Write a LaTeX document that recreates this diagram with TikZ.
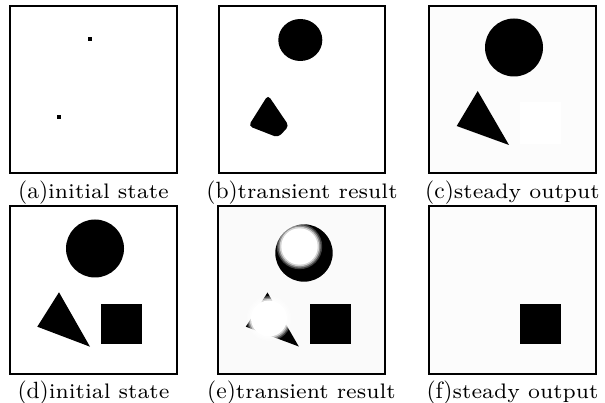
\documentclass[tikz,border=0pt]{standalone}
\usepackage{graphicx}

% caption: label at 10pt design size, text at 7pt design size, both enlarged
\newcommand\figcap[2]{\scalebox{2.35}{\fontsize{10}{12}\selectfont(#1)}\scalebox{3}{\fontsize{7}{8}\selectfont #2}}

% white disc with a soft edge, drawn as stacked translucent discs
\newcommand\softdisc[3]{%
  \foreach \d/\o in {3/0.25,1.5/0.4,0/0.6,-1.5/1}{%
    \fill[white,opacity=\o] (#1,#2) circle ({#3+\d});}}

\tikzset{
  panel/.style={draw=black, line width=2pt},
  ink/.style={fill=black},
  caption/.style={anchor=base, inner sep=0pt, outer sep=0pt},
}

\begin{document}
\begin{tikzpicture}[x=1pt, y=-1pt]
\useasboundingbox (0,0) rectangle (605,403);

% ---------- (a) two seed points ----------
\draw[panel, fill=white] (10,6) rectangle (177,173);
\fill[ink] (88,37) rectangle (92,41);
\fill[ink] (57.3,114.7) rectangle (61.3,118.7);
\node[caption] (capa) at (93.5,199) {\figcap{a}{initial state}};

% ---------- (b) shapes while growing ----------
\draw[panel, fill=white] (219,6) rectangle (385,173);
\fill[ink] (300.3,40) ellipse (22 and 21);
\fill[ink, rounded corners=4pt] (268,95) -- (289,126) -- (278,137.5) -- (248.5,126) -- cycle;
\node[caption] (capb) at (302,199) {\figcap{b}{transient result}};

% ---------- (c) settled shapes ----------
\draw[panel, fill=black!1] (429,6) rectangle (596,173);
\fill[white] (520,101.7) rectangle (560.7,144);
\fill[ink] (514,47.5) circle (29);
\fill[ink] (477.7,91) -- (456.7,126) -- (509,145) -- cycle;
\node[caption] (capc) at (512.5,199) {\figcap{c}{steady output}};

% ---------- (d) three shapes ----------
\draw[panel, fill=white] (10,206) rectangle (177,374);
\fill[ink] (95,248.5) circle (29);
\fill[ink] (59,292.3) -- (37.3,326.7) -- (90,346.7) -- cycle;
\fill[ink] (101,304) rectangle (141.7,344.3);
\node[caption] (capd) at (93.5,398) {\figcap{d}{initial state}};

% ---------- (e) shapes being erased ----------
\draw[panel, fill=black!2] (218,206) rectangle (385,374);
\fill[ink] (304,253) circle (28.7);
\softdisc{299.5}{246.5}{19.7}
\fill[ink] (267.5,292.5) -- (245.8,326.7) -- (298.8,346.5) -- cycle;
\softdisc{269}{318.5}{19.5}
\fill[ink] (310,304) rectangle (350.7,344.3);
\node[caption] (cape) at (301.5,398) {\figcap{e}{transient result}};

% ---------- (f) only the square is left ----------
\draw[panel, fill=black!1] (429,206) rectangle (596,374);
\fill[ink] (520,304) rectangle (560.7,344.3);
\node[caption] (capf) at (512.5,398) {\figcap{f}{steady output}};
\end{tikzpicture}
\end{document}
